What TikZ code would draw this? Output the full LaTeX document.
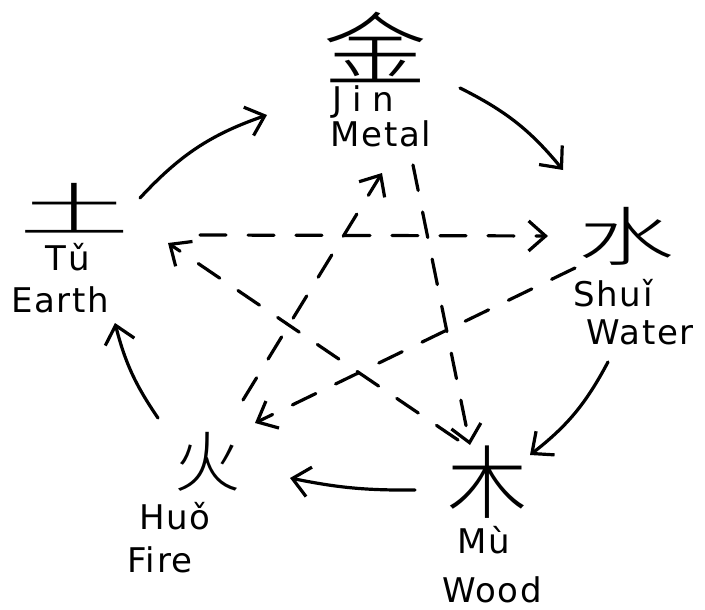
\documentclass[tikz,border=0pt]{standalone}
\usepackage{fontspec}
\setmainfont{DejaVu Sans}[LetterSpace=5]
\newfontfamily\cjk{Noto Sans CJK SC}[UprightFont={* Light}]
\usetikzlibrary{arrows.meta}
\begin{document}
\begin{tikzpicture}[x=1pt,y=-1pt,
  han/.style={inner sep=0pt, font=\cjk},
  lat/.style={inner sep=0pt, font=\fontsize{34}{34}\selectfont},
  hand/.style={line width=3.2pt, line cap=round, line join=round},
  tipA/.style={-{Straight Barb[length=17pt,width=30pt,line width=3.2pt]}},
  genarrow/.style={hand, tipA},
  ctlarrow/.style={hand, tipA, dash pattern=on 26pt off 22pt}]
\useasboundingbox (0,0) rectangle (705,610);
% elements
\node[han] (jin) at (375,47) {\scalebox{1.3}[1]{\fontsize{80}{80}\selectfont 金}};
\node[lat] (jinpy) at (363,102) {\addfontfeature{LetterSpace=30}Jin};
\node[lat] (metal) at (381,134) {Metal};
\node[han] (tu) at (75,208) {\scalebox{1.9}[1]{\fontsize{58}{58}\selectfont 土}};
\node[lat] (tupy) at (68,257) {Tǔ};
\node[lat] (earth) at (60,300) {Earth};
\node[han] (shui) at (626,236) {\scalebox{1.5}[1]{\fontsize{64}{64}\selectfont 水}};
\node[lat] (shuipy) at (613,293) {Shuǐ};
\node[lat] (water) at (640,332) {Water};
\node[han] (huo) at (207,462) {\fontsize{66}{66}\selectfont 火};
\node[lat] (huopy) at (175,516) {Huǒ};
\node[lat] (fire) at (160,560) {Fire};
\node[han] (mu) at (487,482) {\fontsize{80}{80}\selectfont 木};
\node[lat] (mupy) at (484,540) {Mù};
\node[lat] (wood) at (492,590) {Wood};
% connector end points
\coordinate (e1) at (140,198); \coordinate (m1) at (267,115);
\coordinate (m2) at (460,88);  \coordinate (w1) at (563,170);
\coordinate (w2) at (608,362); \coordinate (d1) at (530,455);
\coordinate (d2) at (415,490); \coordinate (f1) at (290,478);
\coordinate (f2) at (158,418); \coordinate (e2) at (115,323);
% generating cycle
\draw[genarrow] (e1) to[bend left=14] (m1);
\draw[genarrow] (m2) to[bend left=12] (w1);
\draw[genarrow] (w2) to[bend left=12] (d1);
\draw[genarrow] (d2) to[bend left=6] (f1);
\draw[genarrow] (f2) to[bend left=10] (e2);
% controlling cycle
\coordinate (ec) at (200,235); \coordinate (wc) at (548,236);
\coordinate (dc) at (458,440); \coordinate (ect) at (168,243);
\coordinate (mc) at (413,165); \coordinate (dct) at (470,445);
\coordinate (wcs) at (575,268); \coordinate (fct) at (255,423);
\coordinate (fcs) at (243,400); \coordinate (mct) at (382,173);
\draw[ctlarrow] (ec) -- (wc);
\draw[ctlarrow] (dc) -- (ect);
\draw[ctlarrow] (mc) -- (dct);
\draw[ctlarrow] (wcs) -- (fct);
\draw[ctlarrow] (fcs) -- (mct);
\end{tikzpicture}
\end{document}
